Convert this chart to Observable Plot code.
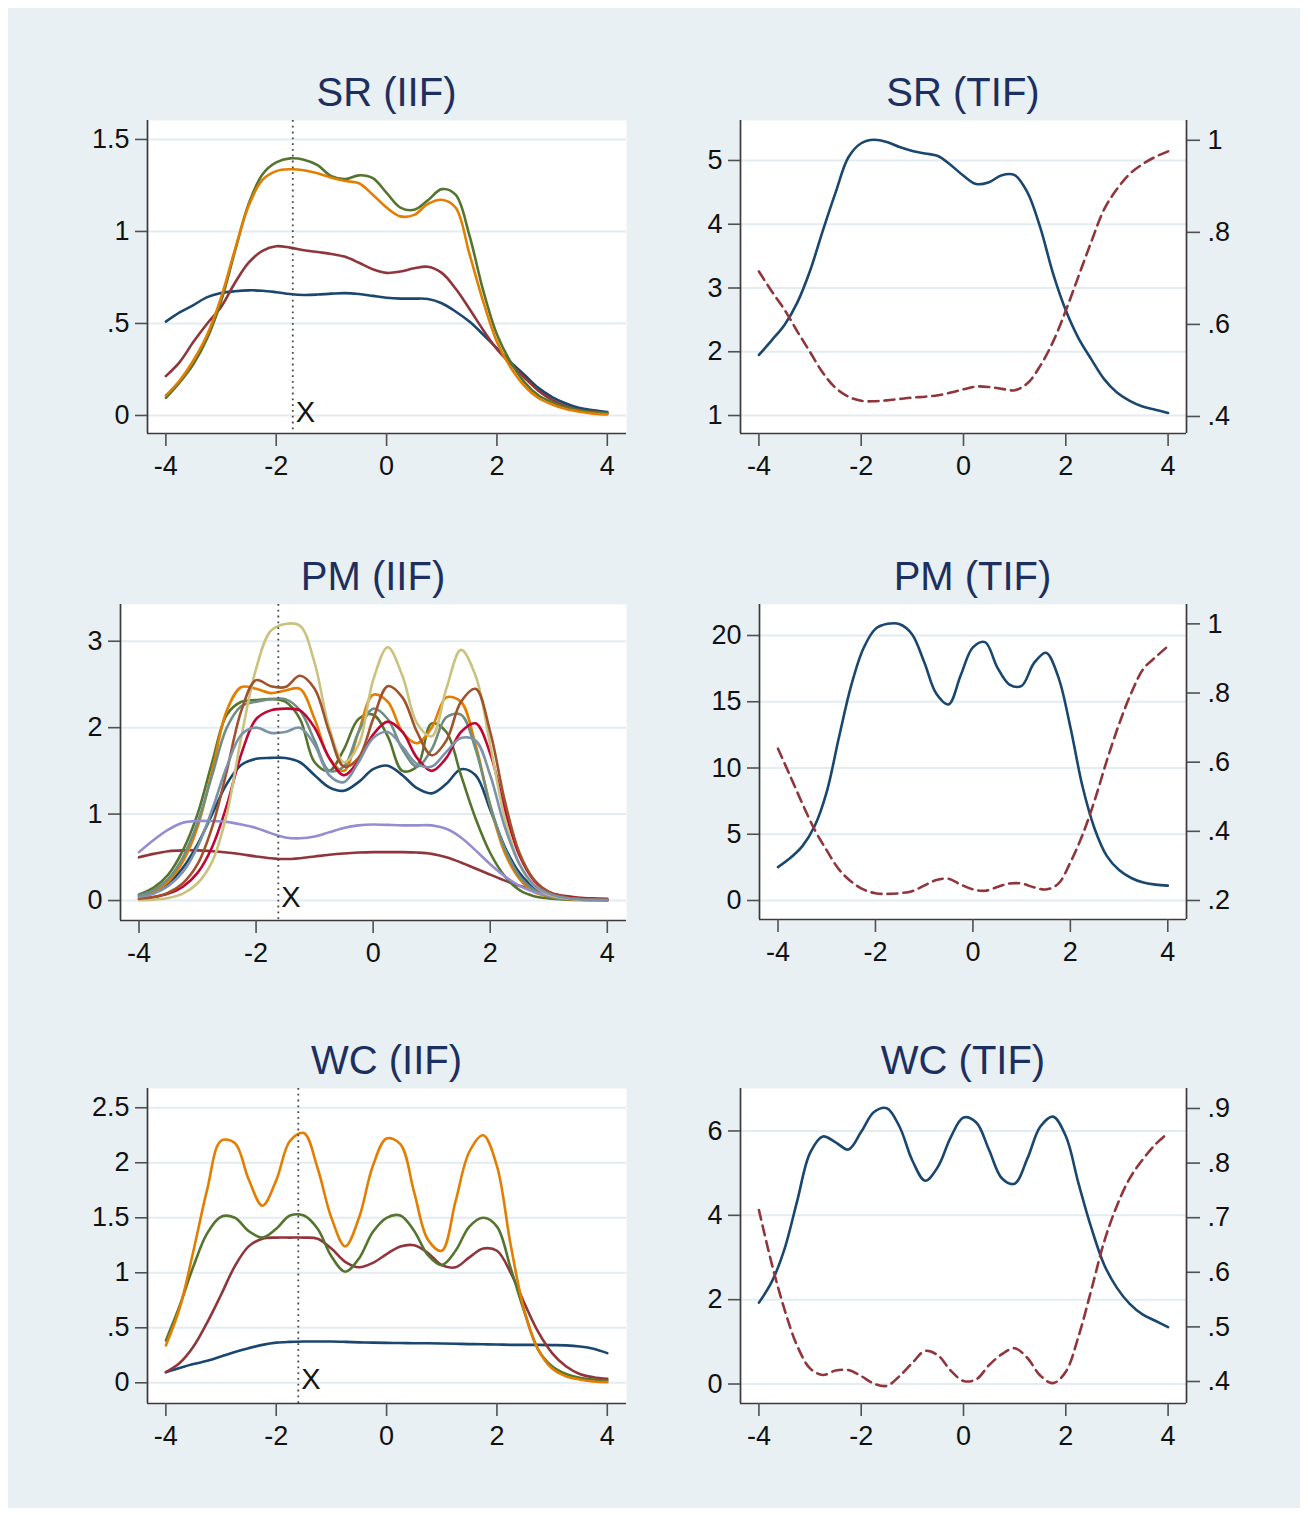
<!DOCTYPE html>
<html>
<head>
<meta charset="utf-8">
<script src="https://cdn.jsdelivr.net/npm/d3@7"></script>
<script src="https://cdn.jsdelivr.net/npm/@observablehq/plot@0.6"></script>
<style>
  body { margin: 0; background: #ffffff; }
  #page { position: relative; width: 1308px; height: 1515px; background: #ffffff; overflow: hidden;
          font-family: "Liberation Sans", Arial, Helvetica, sans-serif; }
  #region { position: absolute; left: 8px; top: 8px; width: 1292px; height: 1500px; background: #e8f0f3; }
  .panel-title { position: absolute; font-size: 40px; line-height: 40px; color: #1c2f5e; text-align: center; white-space: nowrap; }
</style>
</head>
<body>
<div id="page"><div id="region"></div></div>
<script>
// ---- ability grid shared by every curve ----
const theta = [-4,-3.75,-3.5,-3.25,-3,-2.75,-2.5,-2.25,-2,-1.75,-1.5,-1.25,-1,-0.75,-0.5,-0.25,0,0.25,0.5,0.75,1,1.25,1.5,1.75,2,2.25,2.5,2.75,3,3.25,3.5,3.75,4];

// ---- SR: item information (4 items), test information, standard error ----
const srItem1 = [0.51,0.56,0.60,0.643,0.665,0.675,0.68,0.678,0.67,0.66,0.655,0.657,0.662,0.665,0.66,0.65,0.64,0.635,0.635,0.633,0.61,0.565,0.51,0.44,0.365,0.29,0.22,0.15,0.1,0.065,0.04,0.028,0.018];
const srItem2 = [0.214,0.29,0.40,0.50,0.59,0.72,0.83,0.895,0.92,0.912,0.898,0.888,0.878,0.862,0.83,0.795,0.775,0.782,0.80,0.808,0.775,0.69,0.58,0.465,0.36,0.28,0.205,0.135,0.085,0.05,0.03,0.02,0.013];
const srItem3 = [0.096,0.18,0.28,0.42,0.62,0.89,1.15,1.31,1.375,1.397,1.39,1.36,1.30,1.285,1.305,1.29,1.21,1.13,1.118,1.17,1.23,1.20,0.98,0.68,0.44,0.29,0.18,0.11,0.072,0.045,0.028,0.018,0.013];
const srItem4 = [0.109,0.19,0.30,0.44,0.64,0.9,1.14,1.28,1.328,1.338,1.333,1.316,1.292,1.274,1.262,1.20,1.13,1.082,1.09,1.15,1.172,1.13,0.88,0.62,0.40,0.26,0.16,0.095,0.06,0.035,0.02,0.01,0.005];
const srTif = [1.95,2.18,2.42,2.77,3.27,3.9,4.5,5.05,5.27,5.325,5.29,5.21,5.15,5.11,5.07,4.93,4.76,4.63,4.66,4.77,4.77,4.5,3.95,3.23,2.65,2.21,1.88,1.57,1.36,1.23,1.14,1.09,1.04];
const srSe = [0.715,0.672,0.632,0.585,0.54,0.495,0.462,0.443,0.434,0.433,0.435,0.438,0.441,0.443,0.446,0.452,0.459,0.465,0.464,0.46,0.457,0.472,0.51,0.562,0.63,0.705,0.78,0.85,0.894,0.927,0.948,0.964,0.976];
const srCut = -1.70;

// ---- PM: item information (10 items), test information, standard error ----
const pmItem1 = [0.05,0.1,0.2,0.38,0.65,1.0,1.35,1.57,1.64,1.65,1.65,1.6,1.45,1.31,1.27,1.37,1.52,1.56,1.45,1.3,1.24,1.35,1.52,1.45,1.05,0.62,0.32,0.15,0.08,0.04,0.02,0.01,0.01];
const pmItem2 = [0.5,0.54,0.57,0.58,0.58,0.57,0.555,0.535,0.51,0.49,0.48,0.49,0.51,0.53,0.545,0.555,0.56,0.56,0.56,0.555,0.54,0.5,0.44,0.37,0.3,0.23,0.17,0.12,0.08,0.055,0.035,0.025,0.02];
const pmItem3 = [0.07,0.15,0.3,0.58,1.0,1.6,2.15,2.3,2.32,2.33,2.3,2.1,1.6,1.5,1.75,2.1,2.15,1.9,1.5,1.55,2.05,1.95,1.45,0.95,0.55,0.28,0.12,0.05,0.025,0.012,0.006,0.004,0.003];
const pmItem4 = [0.05,0.1,0.22,0.45,0.85,1.5,2.2,2.47,2.45,2.4,2.43,2.45,2.1,1.65,1.5,1.95,2.38,2.3,1.95,1.82,2.0,2.35,2.3,1.8,1.1,0.55,0.25,0.1,0.045,0.02,0.01,0.005,0.003];
const pmItem5 = [0.06,0.12,0.25,0.5,0.9,1.45,2.0,2.25,2.3,2.33,2.33,2.2,1.85,1.5,1.55,1.95,2.22,2.1,1.75,1.55,1.75,2.12,2.15,1.75,1.1,0.6,0.28,0.12,0.05,0.025,0.012,0.006,0.003];
const pmItem6 = [0.02,0.04,0.08,0.16,0.32,0.62,1.1,1.7,2.1,2.2,2.22,2.2,2.0,1.65,1.45,1.62,1.92,2.07,1.95,1.65,1.5,1.65,1.95,2.05,1.7,1.05,0.52,0.23,0.1,0.05,0.025,0.012,0.006];
const pmItem7 = [0.56,0.7,0.82,0.9,0.92,0.92,0.91,0.88,0.84,0.78,0.73,0.72,0.74,0.79,0.84,0.87,0.88,0.875,0.87,0.87,0.87,0.83,0.73,0.58,0.42,0.28,0.17,0.1,0.06,0.035,0.02,0.012,0.008];
const pmItem8 = [0.005,0.01,0.03,0.08,0.2,0.45,1.0,1.9,2.68,3.12,3.2,3.18,2.75,2.0,1.6,1.8,2.55,2.93,2.6,2.05,1.9,2.45,2.9,2.6,1.8,0.95,0.42,0.17,0.07,0.03,0.012,0.005,0.002];
const pmItem9 = [0.02,0.04,0.09,0.2,0.42,0.85,1.5,2.2,2.55,2.48,2.47,2.6,2.45,1.95,1.55,1.65,2.1,2.48,2.35,1.95,1.68,1.85,2.3,2.45,1.95,1.15,0.55,0.24,0.1,0.045,0.02,0.01,0.005];
const pmItem10 = [0.04,0.08,0.17,0.33,0.62,1.05,1.55,1.92,2.0,1.94,1.95,2.0,1.8,1.45,1.37,1.6,1.88,1.95,1.78,1.58,1.55,1.72,1.88,1.85,1.45,0.85,0.42,0.18,0.08,0.035,0.015,0.008,0.004];
const pmTif = [2.52,3.2,4.1,5.6,8.2,12.3,16.2,19.0,20.5,20.88,20.85,20.1,18.0,15.6,14.8,17.0,19.1,19.5,17.6,16.3,16.2,17.9,18.7,16.9,13.1,8.6,5.4,3.35,2.3,1.7,1.35,1.2,1.12];
const pmSe = [0.639,0.56,0.48,0.405,0.345,0.29,0.255,0.232,0.221,0.219,0.221,0.227,0.243,0.259,0.263,0.246,0.232,0.228,0.239,0.249,0.249,0.238,0.232,0.248,0.31,0.39,0.49,0.605,0.71,0.8,0.87,0.904,0.935];
const pmCut = -1.62;

// ---- WC: item information (4 items), test information, standard error ----
const wcItem1 = [0.097,0.135,0.17,0.2,0.24,0.28,0.315,0.345,0.365,0.372,0.375,0.375,0.375,0.372,0.368,0.365,0.363,0.362,0.36,0.36,0.358,0.355,0.352,0.35,0.348,0.345,0.345,0.345,0.343,0.34,0.33,0.31,0.27];
const wcItem2 = [0.097,0.18,0.33,0.55,0.8,1.06,1.24,1.31,1.32,1.32,1.32,1.31,1.22,1.1,1.05,1.09,1.17,1.24,1.25,1.18,1.07,1.05,1.14,1.22,1.2,1.0,0.72,0.46,0.27,0.15,0.08,0.05,0.036];
const wcItem3 = [0.385,0.7,1.06,1.36,1.51,1.5,1.38,1.32,1.4,1.52,1.52,1.4,1.15,1.01,1.13,1.37,1.5,1.52,1.38,1.16,1.07,1.2,1.42,1.5,1.42,1.04,0.64,0.3,0.15,0.08,0.045,0.03,0.02];
const wcItem4 = [0.34,0.68,1.2,1.76,2.2,2.18,1.85,1.61,1.84,2.2,2.27,1.95,1.5,1.24,1.5,1.97,2.22,2.17,1.73,1.3,1.2,1.65,2.1,2.25,1.97,1.25,0.65,0.3,0.13,0.06,0.03,0.012,0.006];
const wcTif = [1.93,2.42,3.2,4.35,5.48,5.87,5.73,5.56,5.98,6.45,6.54,6.1,5.3,4.82,5.15,5.85,6.32,6.2,5.55,4.88,4.75,5.35,6.1,6.34,5.88,4.75,3.7,2.83,2.28,1.9,1.65,1.5,1.35];
const wcSe = [0.714,0.616,0.532,0.465,0.424,0.412,0.42,0.421,0.41,0.396,0.392,0.41,0.434,0.456,0.448,0.42,0.401,0.404,0.43,0.45,0.461,0.443,0.411,0.397,0.418,0.483,0.568,0.656,0.722,0.772,0.806,0.834,0.855];
const wcCut = -1.60;

// ---- ticks and their printed labels ----
const xTicks = [-4, -2, 0, 2, 4];
const xTickLabels = ["-4", "-2", "0", "2", "4"];
const srIifTicks = [0, 0.5, 1, 1.5];        const srIifLabels = ["0", ".5", "1", "1.5"];
const srTifTicks = [1, 2, 3, 4, 5];         const srTifLabels = ["1", "2", "3", "4", "5"];
const srSeTicks = [0.4, 0.6, 0.8, 1];       const srSeLabels = [".4", ".6", ".8", "1"];
const pmIifTicks = [0, 1, 2, 3];            const pmIifLabels = ["0", "1", "2", "3"];
const pmTifTicks = [0, 5, 10, 15, 20];      const pmTifLabels = ["0", "5", "10", "15", "20"];
const pmSeTicks = [0.2, 0.4, 0.6, 0.8, 1];  const pmSeLabels = [".2", ".4", ".6", ".8", "1"];
const wcIifTicks = [0, 0.5, 1, 1.5, 2, 2.5]; const wcIifLabels = ["0", ".5", "1", "1.5", "2", "2.5"];
const wcTifTicks = [0, 2, 4, 6];            const wcTifLabels = ["0", "2", "4", "6"];
const wcSeTicks = [0.4, 0.5, 0.6, 0.7, 0.8, 0.9]; const wcSeLabels = [".4", ".5", ".6", ".7", ".8", ".9"];

// ---- Stata s2color palette ----
const NAVY = "#1a476f", MAROON = "#90353b", FOREST = "#55752f", DKORANGE = "#e37e00",
      TEAL = "#6e8e84", CRANBERRY = "#c10534", LAVENDER = "#938dd2", KHAKI = "#cac27e",
      SIENNA = "#a0522d", EMIDBLUE = "#7b92a8";
const GRID = "#e3ecf0", AXIS = "#3a3a3a", TICK = "#505050", LABEL = "#111111";
const FONT = '"Liberation Sans", Arial, Helvetica, sans-serif';
const LABEL_SIZE = 27;
const CURVE_W = 2.6;
const M = {left: 90, right: 90, top: 14, bottom: 66};

const page = document.getElementById("page");

function fmt(ticks, labels) { return d => labels[ticks.indexOf(d)]; }

function place(el, left, top) {
  el.style.position = "absolute";
  el.style.left = left + "px";
  el.style.top = top + "px";
  page.appendChild(el);
}

function addTitle(text, fr) {
  const div = document.createElement("div");
  div.className = "panel-title";
  div.textContent = text;
  div.style.left = fr.l + "px";
  div.style.width = (fr.r - fr.l) + "px";
  div.style.top = (fr.t - 14 - 34) + "px";
  page.appendChild(div);
}

function frameSize(fr) {
  return {
    width: fr.r - fr.l + M.left + M.right,
    height: fr.b - fr.t + M.top + M.bottom,
    marginLeft: M.left, marginRight: M.right, marginTop: M.top, marginBottom: M.bottom,
    style: {background: "transparent", fontFamily: FONT, overflow: "visible", maxWidth: "none"}
  };
}

const xAxis = () => Plot.axisX(xTicks, {
  tickSize: 13, tickPadding: 9, tickFormat: fmt(xTicks, xTickLabels),
  stroke: TICK, strokeWidth: 1.6, fill: LABEL, fontSize: LABEL_SIZE, label: null
});

// item information panel: one curve per item, cut-point marker "X"
function iifPanel(p) {
  const svg = Plot.plot({
    ...frameSize(p.frame),
    x: {domain: p.xDomain},
    y: {domain: p.yDomain},
    marks: [
      Plot.frame({fill: "white", stroke: "none"}),
      Plot.ruleY(p.yTicks, {stroke: GRID, strokeWidth: 2}),
      ...p.series.map(s => Plot.line(s.values, {
        x: theta, y: s.values, stroke: s.color, strokeWidth: CURVE_W, curve: "catmull-rom"
      })),
      Plot.ruleX([p.cut], {stroke: "#4a4a4a", strokeWidth: 1.8, strokeDasharray: "1.8,4"}),
      Plot.text(["X"], {x: [p.cut], y: [0], text: d => d, textAnchor: "start", lineAnchor: "middle",
                        dx: 3, dy: -3, fontSize: 29, fill: "#141414"}),
      Plot.ruleX([p.xDomain[0]], {stroke: AXIS, strokeWidth: 1.7}),
      Plot.ruleY([p.yDomain[0]], {stroke: AXIS, strokeWidth: 1.7}),
      xAxis(),
      Plot.axisY(p.yTicks, {
        tickSize: 12, tickPadding: 6, tickFormat: fmt(p.yTicks, p.yLabels),
        stroke: TICK, strokeWidth: 1.6, fill: LABEL, fontSize: LABEL_SIZE, label: null
      })
    ]
  });
  place(svg, p.frame.l - M.left, p.frame.t - M.top);
  addTitle(p.title, p.frame);
}

// test information panel: information (left axis) and standard error (right axis, dashed)
function tifPanel(p) {
  const base = Plot.plot({
    ...frameSize(p.frame),
    x: {domain: p.xDomain},
    y: {domain: p.yDomain},
    marks: [
      Plot.frame({fill: "white", stroke: "none"}),
      Plot.ruleY(p.yTicks, {stroke: GRID, strokeWidth: 2}),
      Plot.line(p.tif, {x: theta, y: p.tif, stroke: NAVY, strokeWidth: CURVE_W, curve: "catmull-rom"}),
      Plot.ruleX([p.xDomain[0]], {stroke: AXIS, strokeWidth: 1.7}),
      Plot.ruleY([p.yDomain[0]], {stroke: AXIS, strokeWidth: 1.7}),
      xAxis(),
      Plot.axisY(p.yTicks, {
        tickSize: 12, tickPadding: 6, tickFormat: fmt(p.yTicks, p.yLabels),
        stroke: TICK, strokeWidth: 1.6, fill: LABEL, fontSize: LABEL_SIZE, label: null
      })
    ]
  });
  place(base, p.frame.l - M.left, p.frame.t - M.top);

  const over = Plot.plot({
    ...frameSize(p.frame),
    x: {domain: p.xDomain, axis: null},
    y: {domain: p.seDomain},
    marks: [
      Plot.line(p.se, {x: theta, y: p.se, stroke: MAROON, strokeWidth: CURVE_W,
                       strokeDasharray: "10,6", curve: "catmull-rom"}),
      Plot.ruleX([p.xDomain[1]], {stroke: AXIS, strokeWidth: 1.7}),
      Plot.axisY(p.seTicks, {
        anchor: "right", tickSize: 13, tickPadding: 8, tickFormat: fmt(p.seTicks, p.seLabels),
        stroke: TICK, strokeWidth: 1.6, fill: LABEL, fontSize: LABEL_SIZE, label: null
      })
    ]
  });
  place(over, p.frame.l - M.left, p.frame.t - M.top);
  addTitle(p.title, p.frame);
}

iifPanel({
  title: "SR (IIF)", frame: {l: 147, r: 626, t: 120, b: 433},
  xDomain: [-4.333, 4.348], yDomain: [-0.098, 1.603],
  yTicks: srIifTicks, yLabels: srIifLabels, cut: srCut,
  series: [
    {values: srItem1, color: NAVY}, {values: srItem2, color: MAROON},
    {values: srItem3, color: FOREST}, {values: srItem4, color: DKORANGE}
  ]
});

tifPanel({
  title: "SR (TIF)", frame: {l: 740, r: 1186, t: 120, b: 433},
  xDomain: [-4.36, 4.36], yDomain: [0.718, 5.627], yTicks: srTifTicks, yLabels: srTifLabels,
  seDomain: [0.363, 1.043], seTicks: srSeTicks, seLabels: srSeLabels,
  tif: srTif, se: srSe
});

iifPanel({
  title: "PM (IIF)", frame: {l: 120, r: 626, t: 604, b: 920},
  xDomain: [-4.316, 4.328], yDomain: [-0.231, 3.425],
  yTicks: pmIifTicks, yLabels: pmIifLabels, cut: pmCut,
  series: [
    {values: pmItem1, color: NAVY}, {values: pmItem2, color: MAROON},
    {values: pmItem3, color: FOREST}, {values: pmItem4, color: DKORANGE},
    {values: pmItem5, color: TEAL}, {values: pmItem6, color: CRANBERRY},
    {values: pmItem7, color: LAVENDER}, {values: pmItem8, color: KHAKI},
    {values: pmItem9, color: SIENNA}, {values: pmItem10, color: EMIDBLUE}
  ]
});

tifPanel({
  title: "PM (TIF)", frame: {l: 759, r: 1186, t: 604, b: 919},
  xDomain: [-4.38, 4.384], yDomain: [-1.434, 22.34], yTicks: pmTifTicks, yLabels: pmTifLabels,
  seDomain: [0.145, 1.056], seTicks: pmSeTicks, seLabels: pmSeLabels,
  tif: pmTif, se: pmSe
});

iifPanel({
  title: "WC (IIF)", frame: {l: 147, r: 626, t: 1088, b: 1403},
  xDomain: [-4.333, 4.348], yDomain: [-0.188, 2.675],
  yTicks: wcIifTicks, yLabels: wcIifLabels, cut: wcCut,
  series: [
    {values: wcItem1, color: NAVY}, {values: wcItem2, color: MAROON},
    {values: wcItem3, color: FOREST}, {values: wcItem4, color: DKORANGE}
  ]
});

tifPanel({
  title: "WC (TIF)", frame: {l: 740, r: 1186, t: 1088, b: 1403},
  xDomain: [-4.36, 4.36], yDomain: [-0.462, 7.007], yTicks: wcTifTicks, yLabels: wcTifLabels,
  seDomain: [0.3597, 0.9366], seTicks: wcSeTicks, seLabels: wcSeLabels,
  tif: wcTif, se: wcSe
});
</script>
</body>
</html>
